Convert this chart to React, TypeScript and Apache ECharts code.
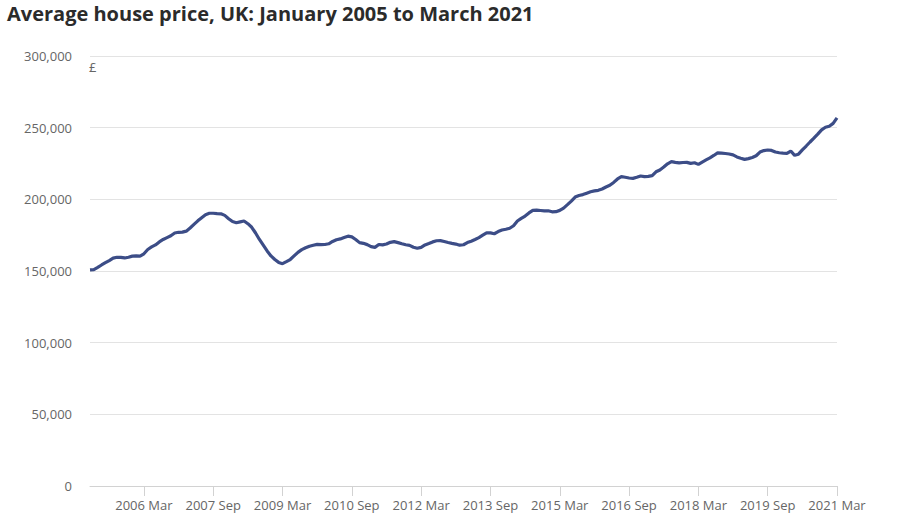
import React, { useEffect, useRef } from "react";
import * as echarts from "echarts";

const TITLE = "Average house price, UK: January 2005 to March 2021";
const UNIT_LABEL = "£";
const START_YEAR = 2005;
const MONTH_NAMES = ["Jan", "Feb", "Mar", "Apr", "May", "Jun", "Jul", "Aug", "Sep", "Oct", "Nov", "Dec"];

// Average house price (£), monthly, Jan 2005 – Mar 2021
const prices2005 = [150800, 151000, 152500, 154200, 155800, 157300, 159000, 159600, 159500, 159100, 159600, 160400];
const prices2006 = [160500, 160400, 162000, 165000, 166800, 168200, 170300, 172000, 173300, 174600, 176500, 177000];
const prices2007 = [177100, 177800, 180000, 182500, 185000, 187200, 189300, 190300, 190300, 190000, 189900, 188800];
const prices2008 = [186500, 184500, 183700, 184300, 184900, 183000, 180500, 176500, 172000, 168000, 164000, 160500];
const prices2009 = [158000, 156000, 155100, 156500, 158000, 160500, 163000, 164900, 166200, 167300, 168000, 168600];
const prices2010 = [168400, 168500, 169000, 170600, 171800, 172400, 173400, 174300, 173800, 172000, 169800, 169300];
const prices2011 = [168400, 167000, 166500, 168500, 168200, 168800, 170000, 170500, 169800, 169000, 168300, 167900];
const prices2012 = [166600, 165900, 166500, 168200, 169200, 170300, 171100, 171200, 170600, 169900, 169300, 168800];
const prices2013 = [168000, 168300, 169800, 170800, 172000, 173300, 175000, 176600, 176600, 176000, 177500, 178600];
const prices2014 = [179100, 179800, 181600, 184900, 186700, 188300, 190500, 192300, 192500, 192200, 191900, 192000];
const prices2015 = [191300, 191400, 192300, 193900, 196300, 198800, 201600, 202700, 203300, 204300, 205300, 205900];
const prices2016 = [206300, 207200, 208600, 209800, 211800, 214200, 215800, 215400, 214900, 214600, 215400, 216300];
const prices2017 = [215800, 216000, 216500, 219200, 220500, 222500, 224800, 226300, 225800, 225400, 225700, 225800];
const prices2018 = [225100, 225500, 224400, 226000, 227500, 228900, 230600, 232400, 232300, 232000, 231600, 231000];
const prices2019 = [229600, 228700, 227900, 228400, 229200, 230400, 233000, 234000, 234400, 234100, 233000, 232500];
const prices2020 = [232200, 232000, 233700, 230700, 231500, 234500, 237200, 240000, 242700, 245500, 248500, 250300];
const prices2021 = [251000, 253000, 256800];

const prices = [
  ...prices2005, ...prices2006, ...prices2007, ...prices2008, ...prices2009,
  ...prices2010, ...prices2011, ...prices2012, ...prices2013, ...prices2014,
  ...prices2015, ...prices2016, ...prices2017, ...prices2018, ...prices2019,
  ...prices2020, ...prices2021,
];

const categories: string[] = prices.map((_, i) => {
  const y = START_YEAR + Math.floor(i / 12);
  return `${y} ${MONTH_NAMES[i % 12]}`;
});

// Labelled ticks: every 18 months starting at 2006 Mar
const FIRST_LABEL_INDEX = 14;
const LABEL_STEP = 18;

const Y_MIN = 0;
const Y_MAX = 300000;
const Y_STEP = 50000;

const FONT = "'Open Sans', 'Noto Sans', sans-serif";

export default function App() {
  const ref = useRef<HTMLDivElement>(null);

  useEffect(() => {
    document.body.style.margin = "0";
    if (!ref.current) return;
    const chart = echarts.init(ref.current, undefined, { renderer: "svg" });
    const showLabel = (index: number) =>
      index >= FIRST_LABEL_INDEX && (index - FIRST_LABEL_INDEX) % LABEL_STEP === 0;

    chart.setOption({
      animation: false,
      backgroundColor: "#ffffff",
      textStyle: { fontFamily: FONT },
      title: {
        text: TITLE,
        left: 7,
        top: 3,
        padding: 0,
        textStyle: { fontFamily: FONT, fontSize: 20, fontWeight: "bold", color: "#2b2b2b" },
      },
      grid: { left: 90, right: 71, top: 56, bottom: 40 },
      graphic: [
        {
          type: "text",
          left: 89,
          top: 60,
          style: { text: UNIT_LABEL, fontFamily: FONT, fontSize: 13, fill: "#666666" },
        },
      ],
      xAxis: {
        type: "category",
        data: categories,
        boundaryGap: false,
        axisLine: { show: true, lineStyle: { color: "#d2d2d2", width: 1 } },
        axisTick: {
          show: true,
          length: 10,
          interval: (index: number) => showLabel(index),
          lineStyle: { color: "#d2d2d2" },
        },
        axisLabel: {
          interval: (index: number) => showLabel(index),
          color: "#666666",
          fontFamily: FONT,
          fontSize: 13,
          margin: 12,
        },
        splitLine: { show: false },
      },
      yAxis: {
        type: "value",
        min: Y_MIN,
        max: Y_MAX,
        interval: Y_STEP,
        axisLine: { show: false },
        axisTick: { show: false },
        axisLabel: {
          color: "#666666",
          fontFamily: FONT,
          fontSize: 13,
          margin: 18,
          formatter: (v: number) => v.toLocaleString("en-GB"),
        },
        splitLine: { show: true, lineStyle: { color: "#e3e3e3", width: 1 } },
      },
      series: [
        {
          type: "line",
          data: prices,
          showSymbol: false,
          smooth: false,
          lineStyle: { color: "#3c4d87", width: 3.2 },
          itemStyle: { color: "#3c4d87" },
        },
      ],
    });
    return () => chart.dispose();
  }, []);

  return <div ref={ref} style={{ width: 908, height: 526 }} />;
}
